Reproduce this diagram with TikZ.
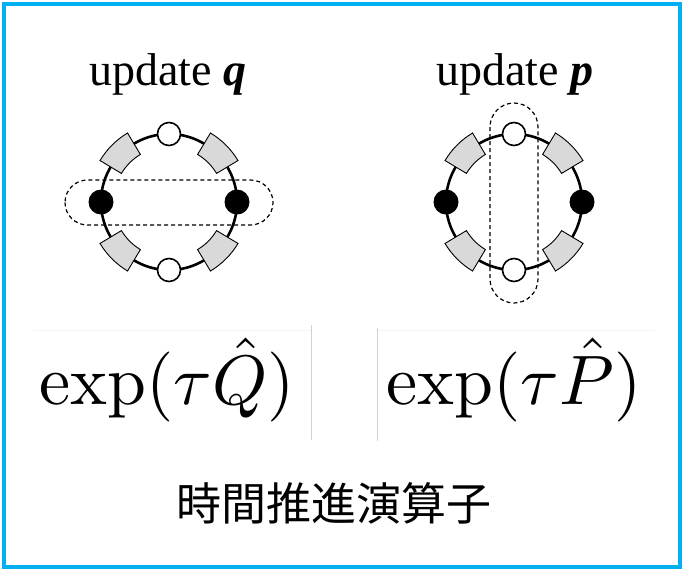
\documentclass[tikz,border=0pt]{standalone}
\usepackage{amsmath}
\usepackage{graphicx}
\usepackage[no-math]{fontspec}
\newfontfamily\timesfont{Liberation Serif}
\newfontfamily\jpfont{Noto Sans CJK JP}
\usetikzlibrary{calc}
\definecolor{framecyan}{HTML}{00B0F0}

\begin{document}
\begin{tikzpicture}[x=1pt, y=-1pt,
  ring/.style={line width=2.6pt},
  cellbox/.style={draw, line width=0.9pt, fill=gray!30},
  whitesite/.style={circle, draw, line width=1.6pt, fill=white, minimum size=23pt, inner sep=0pt},
  blacksite/.style={circle, fill=black, minimum size=25pt, inner sep=0pt},
  pairloop/.style={dash pattern=on 4pt off 3pt, line width=1.2pt},
  labeltxt/.style={font=\timesfont\fontsize{46}{50}\selectfont, anchor=base, inner sep=0pt},
  formula/.style={anchor=base, inner sep=0pt}]
  % rahmen
  \useasboundingbox (0,0) rectangle (684,571);
  \fill[white] (0,0) rectangle (684,571);
  \draw[framecyan, line width=3.5pt] (4,4) rectangle (680,567);

  % zwei ringe: links q, rechts p
  \foreach \cx/\tag in {169/L, 514/R}{
    \coordinate (C\tag) at (\cx,202);
    \draw[ring] (C\tag) circle (68);
    % graue zellen auf den diagonalen
    \foreach \a in {45,135,225,315}{
      \draw[cellbox] ($(C\tag)+(\a-14:80.5)$) arc[start angle=\a-14, end angle=\a+14, radius=80.5]
        -- ($(C\tag)+(\a+14:55.5)$) arc[start angle=\a+14, end angle=\a-14, radius=55.5] -- cycle;
    }
    % plaetze oben/unten (weiss) und links/rechts (schwarz)
    \node[whitesite] (top\tag) at ($(C\tag)+(0,-68)$) {};
    \node[whitesite] (bot\tag) at ($(C\tag)+(0,68)$) {};
    \node[blacksite] (lft\tag) at ($(C\tag)+(-68,0)$) {};
    \node[blacksite] (rgt\tag) at ($(C\tag)+(68,0)$) {};
  }

  % gestrichelte paare
  \draw[pairloop, rounded corners=22.5pt] (65,180) rectangle (273,225);
  \draw[pairloop, rounded corners=24pt] (490,103) rectangle (538,303);

  % ueberschriften
  \node[labeltxt] (headQ) at (168,85) {update \textbf{\textit{q}}};
  \node[labeltxt] (headP) at (515,85) {update \textbf{\textit{p}}};

  % operatoren
  \node[formula] (expQ) at (167,404) {\scalebox{7.0}{$\exp(\tau\hat{Q})$}};
  \node[formula] (expP) at (514,404) {\scalebox{7.0}{$\exp(\tau\hat{P})$}};
  \draw[gray!8, line width=0.6pt] (33,330) -- (311,330);
  \draw[gray!8, line width=0.6pt] (376,330) -- (655,330);
  \draw[gray!35, line width=0.8pt] (311,325) -- (311,440);
  \draw[gray!35, line width=0.8pt] (377,328) -- (377,441);

  % unterschrift
  \node[font=\jpfont\fontsize{45}{50}\selectfont, anchor=base] (caption) at (334,520) {時間推進演算子};
\end{tikzpicture}
\end{document}
